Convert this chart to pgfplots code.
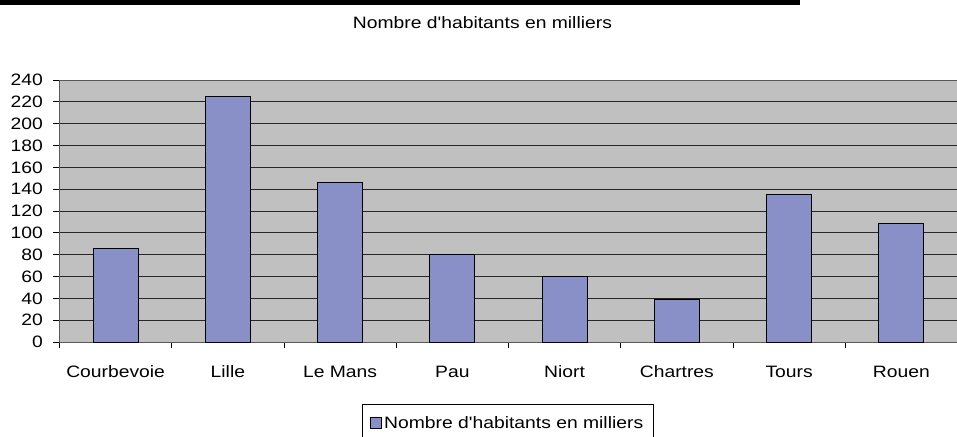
\documentclass[border=0pt]{standalone}
\usepackage{fontspec}
\setmainfont{Liberation Sans}[FakeStretch=1.17]
\newfontfamily\lsf{Liberation Sans}[FakeStretch=1.17]
\usepackage{pgfplots}
\pgfplotsset{compat=1.18}
\definecolor{plotbg}{RGB}{192,192,192}
\definecolor{barfill}{RGB}{137,143,199}
\begin{document}
\begin{tikzpicture}[x=1pt,y=1pt]
\path[use as bounding box] (0,0) rectangle (957,436);
\fill[black] (0,431) rectangle (800,436);
\begin{axis}[
  at={(53,86)}, anchor=south west,
  scale only axis, width=898pt, height=262pt,
  xmin=-0.5, xmax=7.5, ymin=0, ymax=240,
  axis background/.style={fill=plotbg},
  axis line style={draw=black!65, line width=0.9pt},
  ytick distance=20,
  xtick={0,...,7},
  xticklabels={Courbevoie,Lille,Le Mans,Pau,Niort,Chartres,Tours,Rouen},
  minor xtick={-0.5,0.5,...,7.5},
  x tick style={draw=none},
  minor x tick style={draw=black, line width=0.9pt},
  y tick style={draw=black, line width=0.9pt},
  major tick length=6pt, minor tick length=6pt,
  tick align=outside,
  xtick pos=bottom, ytick pos=left,
  ymajorgrids, grid style={draw=black!85, line width=1.1pt},
  tick label style={font=\lsf\fontsize{16.5}{18}\selectfont},
  /pgf/number format/assume math mode=true,
  x tick label style={yshift=-14pt, text height=12pt, text depth=3pt},
  y tick label style={xshift=-7pt},
  title={\lsf Nombre d'habitants en milliers},
  title style={at={(axis description cs:0.471,1.198)}, anchor=center, font=\lsf\fontsize{16.5}{18}\selectfont},
  legend style={at={(axis description cs:0.4992,-0.2366)}, anchor=north,
    draw=black, line width=0.8pt, font=\lsf\fontsize{16.5}{18}\selectfont,
    inner xsep=8pt, inner ysep=10pt},
  legend image code/.code={\draw[fill=barfill, draw=black, line width=0.8pt] (0pt,-5.5pt) rectangle (11pt,5.5pt);},
]
\addplot[ybar, bar width=0.4, fill=barfill, draw=black, line width=0.9pt]
  coordinates {(0,86) (1,225) (2,146) (3,80) (4,60) (5,39) (6,135) (7,109)};
\addlegendentry{\lsf Nombre d'habitants en milliers}
\end{axis}
\end{tikzpicture}
\end{document}
